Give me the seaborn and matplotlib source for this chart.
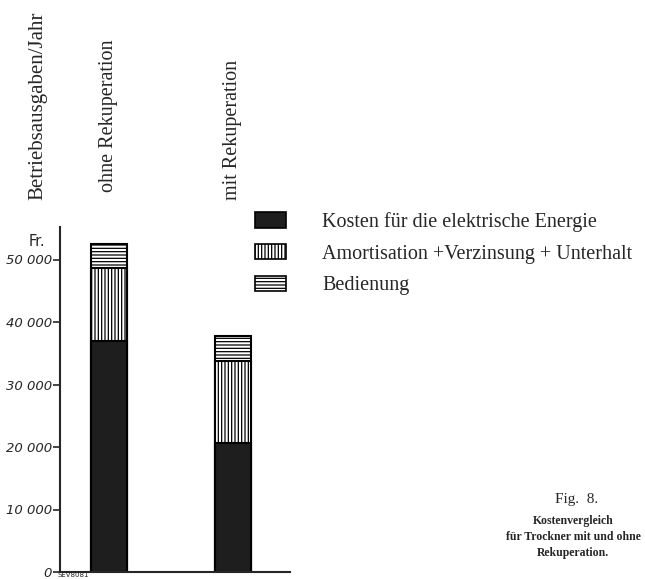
import matplotlib
matplotlib.use("Agg")
import matplotlib.pyplot as plt
import matplotlib.patches as mpatches
import matplotlib.transforms as mtransforms
from matplotlib.ticker import FuncFormatter
import seaborn as sns
import pandas as pd

# %% Daten
varianten = ['ohne Rekuperation', 'mit Rekuperation']
energie = [37000, 20600]
amortisation = [11600, 13200]
bedienung = [3900, 4000]
legende = ['Kosten für die elektrische Energie',
           'Amortisation +Verzinsung + Unterhalt',
           'Bedienung']
y_ticks = [0, 10000, 20000, 30000, 40000, 50000]

df = pd.DataFrame({'variante': varianten,
                   'energie': energie,
                   'amortisation': amortisation,
                   'bedienung': bedienung})
df['stufe2'] = df['energie'] + df['amortisation']
df['gesamt'] = df['stufe2'] + df['bedienung']

# %% Stil
sns.set_style('ticks')
plt.rcParams['font.family'] = ['DejaVu Sans']
plt.rcParams['hatch.linewidth'] = 0.9
plt.rcParams['hatch.color'] = 'black'
serif = ['Liberation Serif', 'DejaVu Serif']

fig = plt.figure(figsize=(6.45, 5.79), dpi=100)
ax = fig.add_axes([60 / 645, 1 - 572 / 579, 230 / 645, 345 / 579])

breite = 0.29
sns.barplot(data=df, x='variante', y='gesamt', color='white', edgecolor='black',
            linewidth=1.5, hatch='-----', width=breite, errorbar=None, ax=ax)
sns.barplot(data=df, x='variante', y='stufe2', color='white', edgecolor='black',
            linewidth=1.5, hatch='|||||', width=breite, errorbar=None, ax=ax)
sns.barplot(data=df, x='variante', y='energie', color='#1e1e1e', edgecolor='black',
            linewidth=1.5, width=breite, errorbar=None, ax=ax)

ax.set_xlim(-0.395, 1.46)
ax.set_ylim(0, 55200)
ax.set_yticks(y_ticks)
ax.yaxis.set_major_formatter(FuncFormatter(lambda v, p: f'{int(v):,}'.replace(',', ' ')))
ax.set_xticks([])
ax.set_xlabel('')
ax.set_ylabel('')
ax.tick_params(axis='y', length=5, width=1.2, labelsize=9.5, pad=1)
for lab in ax.get_yticklabels():
    lab.set_fontstyle('italic')
sns.despine(ax=ax)
for s in ['left', 'bottom']:
    ax.spines[s].set_linewidth(1.5)

# Beschriftungen oben
trans = mtransforms.blended_transform_factory(ax.transData, fig.transFigure)
fig.text(38 / 645, 1 - 200 / 579, 'Betriebsausgaben/Jahr', rotation=90,
         ha='center', va='bottom', fontsize=15, family=serif)
for i, name in enumerate(varianten):
    ax.text(i, 1 - (192 + 8 * i) / 579, name, rotation=90, transform=trans,
            ha='center', va='bottom', fontsize=14.5, family=serif)

fig.text(37 / 645, 1 - 241 / 579, 'Fr.', ha='center', va='center', fontsize=10.5)
fig.text(58 / 645, 0.001, 'SEV8081', ha='left', va='bottom', fontsize=5)

# Legende
handles = [mpatches.Patch(facecolor='#1e1e1e', edgecolor='black', linewidth=1.2),
           mpatches.Patch(facecolor='white', edgecolor='black', linewidth=1.2, hatch='|||||'),
           mpatches.Patch(facecolor='white', edgecolor='black', linewidth=1.2, hatch='-----')]
fig.legend(handles, legende, loc='upper left', bbox_to_anchor=(255 / 645, 1 - 212 / 579),
           frameon=False, borderpad=0, borderaxespad=0, handlelength=1.55,
           handleheight=0.8, handletextpad=1.8, labelspacing=0.6,
           prop={'family': serif, 'size': 14.5})

# Bildunterschrift
fig.text(577 / 645, 1 - 500 / 579, 'Fig.  8.', ha='center', va='center',
         fontsize=11, family=serif)
fig.text(573 / 645, 1 - 537 / 579, 'Kostenvergleich\nfür Trockner mit und ohne\nRekuperation.',
         ha='center', va='center', fontsize=8.5, family=serif, fontweight='bold',
         linespacing=1.4)

fig.savefig('out.png', dpi=100)
